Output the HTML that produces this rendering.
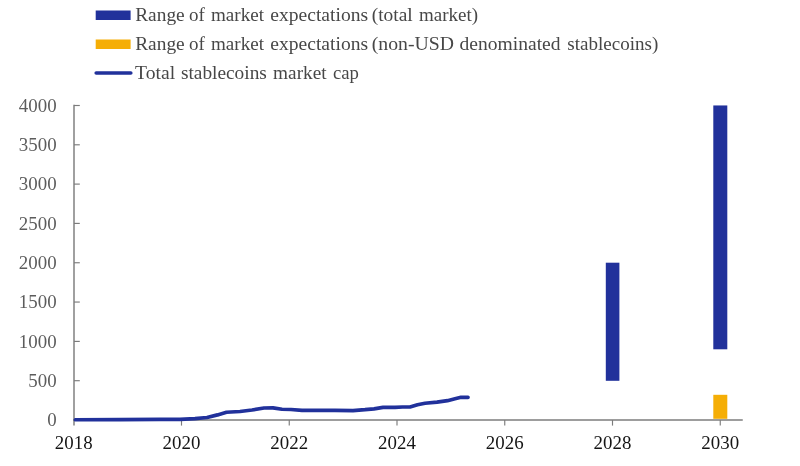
<!DOCTYPE html>
<html lang="en">
<head>
<meta charset="utf-8">
<title>Stablecoins market cap and market expectations</title>
<style>
html,body{margin:0;padding:0;background:#fff;}
body{width:800px;height:466px;overflow:hidden;}
svg{display:block;will-change:transform;}
text{font-family:"Liberation Serif","DejaVu Serif",serif;}
.lg{font-size:18.3px;fill:#474747;}
.yl{font-size:18.9px;fill:#5c5c5c;text-anchor:end;}
.xl{font-size:18.9px;fill:#151515;text-anchor:middle;}
</style>
</head>
<body>
<svg width="800" height="466" viewBox="0 0 800 466">
<rect x="0" y="0" width="800" height="466" fill="#ffffff"/>

<!-- legend -->
<rect x="95.7" y="10.5" width="34.9" height="9.5" fill="#21319b"/>
<rect x="95.7" y="39.5" width="34.9" height="9.5" fill="#f5ae06"/>
<line x1="96.2" y1="73" x2="130.8" y2="73" stroke="#21319b" stroke-width="3.6" stroke-linecap="round"/>
<text class="lg" x="135.2" y="21" textLength="49.5" lengthAdjust="spacingAndGlyphs">Range</text>
<text class="lg" x="189" y="21" textLength="15.8" lengthAdjust="spacingAndGlyphs">of</text>
<text class="lg" x="211" y="21" textLength="53" lengthAdjust="spacingAndGlyphs">market</text>
<text class="lg" x="270.3" y="21" textLength="97.8" lengthAdjust="spacingAndGlyphs">expectations</text>
<text class="lg" x="371.7" y="21" textLength="41" lengthAdjust="spacingAndGlyphs">(total</text>
<text class="lg" x="419" y="21" textLength="59" lengthAdjust="spacingAndGlyphs">market)</text>
<text class="lg" x="135.2" y="49.75" textLength="49.5" lengthAdjust="spacingAndGlyphs">Range</text>
<text class="lg" x="189" y="49.75" textLength="15.8" lengthAdjust="spacingAndGlyphs">of</text>
<text class="lg" x="211" y="49.75" textLength="53" lengthAdjust="spacingAndGlyphs">market</text>
<text class="lg" x="270.3" y="49.75" textLength="97.8" lengthAdjust="spacingAndGlyphs">expectations</text>
<text class="lg" x="371.7" y="49.75" textLength="82.3" lengthAdjust="spacingAndGlyphs">(non-USD</text>
<text class="lg" x="459.6" y="49.75" textLength="101" lengthAdjust="spacingAndGlyphs">denominated</text>
<text class="lg" x="567.3" y="49.75" textLength="91" lengthAdjust="spacingAndGlyphs">stablecoins)</text>
<text class="lg" x="135.1" y="79" textLength="40" lengthAdjust="spacingAndGlyphs">Total</text>
<text class="lg" x="180.9" y="79" textLength="86" lengthAdjust="spacingAndGlyphs">stablecoins</text>
<text class="lg" x="273.1" y="79" textLength="53.5" lengthAdjust="spacingAndGlyphs">market</text>
<text class="lg" x="332.9" y="79" textLength="26" lengthAdjust="spacingAndGlyphs">cap</text>

<!-- axes -->
<g stroke="#7c7c7c" stroke-width="1.15" fill="none">
<line x1="74" y1="104.75" x2="74" y2="425.6" stroke-width="1.45"/>
<line x1="73.2" y1="420" x2="742.75" y2="420" stroke-width="1.45"/>
<!-- y ticks -->
<line x1="74" y1="105.5" x2="79.8" y2="105.5"/>
<line x1="74" y1="144.8" x2="79.8" y2="144.8"/>
<line x1="74" y1="184.1" x2="79.8" y2="184.1"/>
<line x1="74" y1="223.4" x2="79.8" y2="223.4"/>
<line x1="74" y1="262.75" x2="79.8" y2="262.75"/>
<line x1="74" y1="302.05" x2="79.8" y2="302.05"/>
<line x1="74" y1="341.4" x2="79.8" y2="341.4"/>
<line x1="74" y1="380.7" x2="79.8" y2="380.7"/>
<!-- x ticks -->
<line x1="181.5" y1="420" x2="181.5" y2="425.6"/>
<line x1="289.25" y1="420" x2="289.25" y2="425.6"/>
<line x1="397" y1="420" x2="397" y2="425.6"/>
<line x1="504.75" y1="420" x2="504.75" y2="425.6"/>
<line x1="612.5" y1="420" x2="612.5" y2="425.6"/>
<line x1="720.25" y1="420" x2="720.25" y2="425.6"/>
</g>

<!-- y labels -->
<text class="yl" x="56.6" y="111.7">4000</text>
<text class="yl" x="56.6" y="151.0">3500</text>
<text class="yl" x="56.6" y="190.3">3000</text>
<text class="yl" x="56.6" y="229.6">2500</text>
<text class="yl" x="56.6" y="268.9">2000</text>
<text class="yl" x="56.6" y="308.2">1500</text>
<text class="yl" x="56.6" y="347.6">1000</text>
<text class="yl" x="56.6" y="386.9">500</text>
<text class="yl" x="56.6" y="425.8">0</text>

<!-- x labels -->
<text class="xl" x="73.75" y="449">2018</text>
<text class="xl" x="181.5" y="449">2020</text>
<text class="xl" x="289.25" y="449">2022</text>
<text class="xl" x="397" y="449">2024</text>
<text class="xl" x="504.75" y="449">2026</text>
<text class="xl" x="612.5" y="449">2028</text>
<text class="xl" x="720.25" y="449">2030</text>

<!-- bars -->
<rect x="605.8" y="262.7" width="13.6" height="118.1" fill="#21319b"/>
<rect x="713.3" y="105.45" width="14" height="243.85" fill="#21319b"/>
<rect x="713.3" y="394.8" width="14" height="24" fill="#f5ae06"/>

<!-- line -->
<polyline fill="none" stroke="#21319b" stroke-width="3.7" stroke-linecap="round" stroke-linejoin="round"
points="75.4,419.75 120,419.6 160,419.3 180,419.3 195,418.6 207,417.5 217.5,414.9 226.5,412.25 240,411.5 252,410 264,408 273,407.9 282,409.25 291,409.5 302,410.45 320,410.3 335,410.45 353,410.6 365,409.7 374,408.8 383,407.45 395,407.45 402.5,407 410,407 417.5,404.75 425,403.25 437,402.2 447.5,400.7 455,398.75 461,397.25 468,397.4"/>
</svg>
</body>
</html>
